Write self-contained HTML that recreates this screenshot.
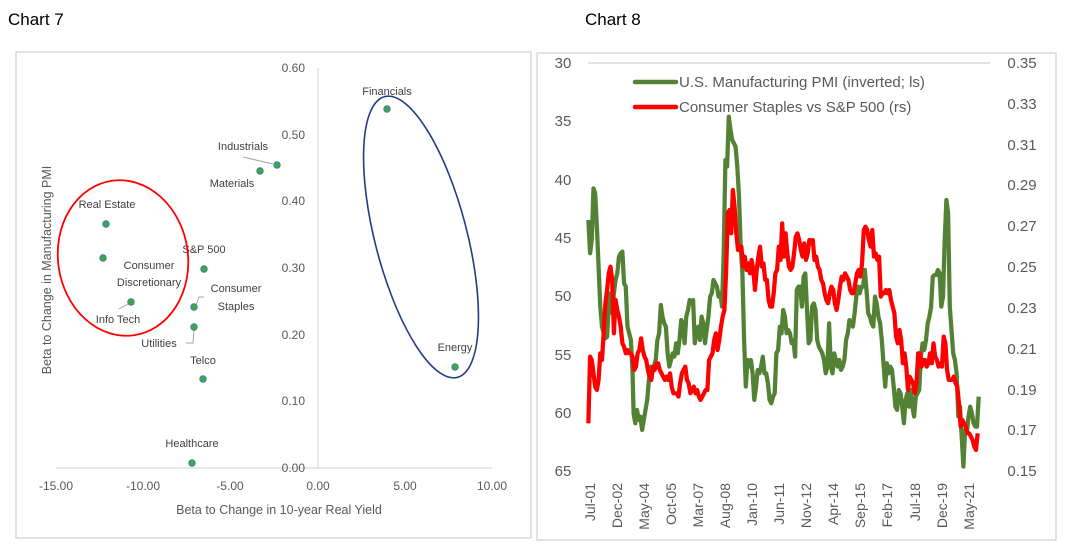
<!DOCTYPE html>
<html><head><meta charset="utf-8"><style>
html,body{margin:0;padding:0;background:#fff;}
svg{display:block;font-family:"Liberation Sans",sans-serif;}
</style></head><body>
<svg width="1070" height="549" viewBox="0 0 1070 549" xmlns="http://www.w3.org/2000/svg">
<rect width="1070" height="549" fill="#fff"/>
<text x="8" y="25" font-size="17" fill="#000">Chart 7</text>
<text x="585" y="25" font-size="17" fill="#000">Chart 8</text>

<!-- Chart 7 -->
<rect x="16" y="52" width="515" height="486" fill="#fff" stroke="#d9d9d9" stroke-width="1.5"/>
<line x1="318" y1="68" x2="318" y2="468" stroke="#d9d9d9" stroke-width="1.2"/>
<line x1="56" y1="468" x2="492" y2="468" stroke="#d9d9d9" stroke-width="1.2"/>
<g font-size="12" fill="#595959" text-anchor="end">
<text x="305" y="72">0.60</text><text x="305" y="139">0.50</text><text x="305" y="205">0.40</text>
<text x="305" y="272">0.30</text><text x="305" y="339">0.20</text><text x="305" y="405">0.10</text><text x="305" y="472">0.00</text>
</g>
<g font-size="12" fill="#595959" text-anchor="middle">
<text x="56" y="490">-15.00</text><text x="143" y="490">-10.00</text><text x="230" y="490">-5.00</text>
<text x="318" y="490">0.00</text><text x="405" y="490">5.00</text><text x="492" y="490">10.00</text>
<text x="279" y="514" font-size="12.5">Beta to Change in 10-year Real Yield</text>
<text transform="translate(51,270) rotate(-90)" font-size="12.5">Beta to Change in Manufacturing PMI</text>
</g>
<g stroke="#a6a6a6" stroke-width="1" fill="none">
<polyline points="243,157 273,164"/><polyline points="119,309 128,304"/>
<polyline points="196,305 199,297 204,297"/><polyline points="186,343 193,343 194,330"/>
</g>
<g fill="#3cab3c" stroke="#4472c4" stroke-width="0.8">
<circle cx="387" cy="109" r="3.3"/><circle cx="277" cy="165" r="3.3"/><circle cx="260" cy="171" r="3.3"/>
<circle cx="106" cy="224" r="3.3"/><circle cx="103" cy="258" r="3.3"/><circle cx="204" cy="269" r="3.3"/>
<circle cx="131" cy="302" r="3.3"/><circle cx="194" cy="307" r="3.3"/><circle cx="194" cy="327" r="3.3"/>
<circle cx="203" cy="379" r="3.3"/><circle cx="192" cy="463" r="3.3"/><circle cx="455" cy="367" r="3.3"/>
</g>
<g font-size="11" fill="#404040" text-anchor="middle">
<text x="387" y="95">Financials</text><text x="243" y="150">Industrials</text><text x="232" y="187">Materials</text>
<text x="107" y="208">Real Estate</text><text x="149" y="269">Consumer</text><text x="149" y="286">Discretionary</text>
<text x="204" y="253">S&amp;P 500</text><text x="118" y="323">Info Tech</text><text x="236" y="292">Consumer</text>
<text x="236" y="310">Staples</text><text x="159" y="347">Utilities</text><text x="203" y="364">Telco</text>
<text x="192" y="447">Healthcare</text><text x="455" y="351">Energy</text>
</g>
<ellipse cx="123" cy="258" rx="65" ry="78" fill="none" stroke="#ff0000" stroke-width="1.8" transform="rotate(-8 123 258)"/>
<ellipse cx="421" cy="237" rx="46" ry="145" fill="none" stroke="#1f3c88" stroke-width="1.6" transform="rotate(-14.5 421 237)"/>

<!-- Chart 8 -->
<rect x="537" y="53" width="519" height="487" fill="#fff" stroke="#d9d9d9" stroke-width="1.5"/>
<line x1="588" y1="63" x2="990" y2="63" stroke="#d9d9d9" stroke-width="1.5"/>
<g font-size="15" fill="#595959" text-anchor="middle">
<text x="563" y="68">30</text><text x="563" y="126">35</text><text x="563" y="185">40</text><text x="563" y="243">45</text>
<text x="563" y="301">50</text><text x="563" y="360">55</text><text x="563" y="418">60</text><text x="563" y="476">65</text>
<text x="1022" y="68">0.35</text><text x="1022" y="109">0.33</text><text x="1022" y="150">0.31</text><text x="1022" y="190">0.29</text>
<text x="1022" y="231">0.27</text><text x="1022" y="272">0.25</text><text x="1022" y="313">0.23</text><text x="1022" y="354">0.21</text>
<text x="1022" y="395">0.19</text><text x="1022" y="435">0.17</text><text x="1022" y="476">0.15</text>
</g>
<g font-size="14" fill="#595959" text-anchor="end">
<text transform="translate(595,483) rotate(-90)">Jul-01</text>
<text transform="translate(622,483) rotate(-90)">Dec-02</text>
<text transform="translate(649,483) rotate(-90)">May-04</text>
<text transform="translate(676,483) rotate(-90)">Oct-05</text>
<text transform="translate(703,483) rotate(-90)">Mar-07</text>
<text transform="translate(730,483) rotate(-90)">Aug-08</text>
<text transform="translate(757,483) rotate(-90)">Jan-10</text>
<text transform="translate(784,483) rotate(-90)">Jun-11</text>
<text transform="translate(811,483) rotate(-90)">Nov-12</text>
<text transform="translate(838,483) rotate(-90)">Apr-14</text>
<text transform="translate(865,483) rotate(-90)">Sep-15</text>
<text transform="translate(892,483) rotate(-90)">Feb-17</text>
<text transform="translate(920,483) rotate(-90)">Jul-18</text>
<text transform="translate(947,483) rotate(-90)">Dec-19</text>
<text transform="translate(974,483) rotate(-90)">May-21</text>
</g>
<g transform="translate(535,40) scale(0.34,0.3333)" fill="none" stroke-linejoin="round" stroke-width="12.5">
<polyline stroke="#548235" points="157,540 162,640 167,600 172,445 177,460 182,560 187,680 192,800 197,860 202,880 207,895 212,890 217,800 222,760 227,820 232,760 237,720 242,700 247,650 252,640 257,635 262,730 267,740 272,860 277,880 282,900 287,1000 290,1120 295,1150 300,1110 305,1140 310,1130 315,1170 320,1140 325,1110 330,1080 335,1020 340,980 345,1000 350,980 355,960 360,900 365,880 370,795 375,830 380,850 385,860 390,940 395,980 400,960 405,940 410,950 415,910 420,940 425,900 430,840 435,850 440,910 445,830 450,810 455,780 460,790 465,780 470,910 475,870 480,860 485,900 490,830 495,850 500,910 505,870 510,830 515,770 520,760 525,720 530,730 535,740 540,770 545,760 550,800 555,640 560,360 565,380 570,230 575,270 580,300 585,310 590,320 595,380 600,470 605,620 610,700 615,900 620,1040 625,960 630,980 635,960 640,1000 645,1080 650,1040 655,990 660,1000 665,980 670,950 675,1000 680,1000 685,1030 690,1080 695,1090 700,1070 705,1060 710,940 715,930 720,860 725,880 730,810 735,830 740,880 745,870 750,880 755,910 760,900 765,950 770,750 775,740 780,740 785,800 790,710 795,700 800,810 805,910 810,900 815,800 820,790 825,810 830,900 835,920 840,930 845,940 850,960 855,1000 860,980 865,850 870,980 875,1000 880,940 885,960 890,980 895,960 900,990 905,980 910,960 915,900 920,880 925,840 930,850 935,860 940,820 945,770 950,740 955,760 960,740 965,740 970,690 975,750 980,820 985,830 990,850 995,860 1000,770 1005,790 1010,830 1015,850 1020,900 1025,970 1030,1040 1035,970 1040,1000 1045,980 1050,990 1055,1040 1060,1100 1065,1110 1070,1050 1075,1060 1080,1100 1085,1150 1090,1080 1095,1060 1100,1100 1105,1050 1110,1100 1115,1130 1120,1070 1125,1060 1130,1050 1135,950 1140,910 1145,930 1150,900 1155,850 1160,830 1165,800 1170,710 1175,705 1180,705 1185,690 1190,700 1195,800 1200,770 1205,600 1210,480 1215,520 1220,800 1225,870 1230,940 1235,960 1240,1000 1245,1130 1250,1100 1255,1190 1260,1280 1265,1170 1270,1180 1275,1130 1280,1100 1285,1120 1290,1150 1295,1160 1300,1160 1305,1070"/>
<polyline stroke="#ff0000" points="157,1150 162,950 167,960 172,1000 177,1040 182,1050 187,1020 192,940 197,960 202,880 207,790 212,750 217,700 222,680 227,720 232,880 237,780 242,810 247,830 252,860 257,910 262,920 267,940 272,930 277,940 282,940 287,950 292,990 297,980 302,940 307,930 312,895 317,930 322,950 327,960 332,990 337,1010 342,1020 347,980 352,990 357,970 362,970 367,990 372,1000 377,1010 382,1020 387,1010 392,1020 397,1000 402,1040 407,1060 412,1060 417,1060 422,1070 427,1030 432,1000 437,990 442,980 447,1020 452,1030 457,1060 462,1050 467,1040 472,1060 477,1050 482,1070 487,1080 492,1070 497,1060 502,1050 507,1050 512,960 517,950 522,940 527,900 532,880 537,930 542,900 547,860 552,830 557,810 562,700 567,520 572,510 577,580 582,450 587,500 592,580 597,630 602,630 607,620 612,680 617,650 622,690 627,670 632,700 637,660 642,690 647,750 652,690 657,650 662,620 667,680 672,670 677,720 682,720 687,780 692,800 697,800 702,760 707,700 712,690 717,620 722,660 727,550 732,650 737,580 742,640 747,680 752,690 757,680 762,640 767,590 772,580 777,600 782,630 787,650 792,610 797,660 802,640 807,600 812,610 817,600 822,660 827,650 832,680 837,690 842,720 847,730 852,760 857,780 862,790 867,760 872,740 877,750 882,790 887,810 892,780 897,740 902,710 907,720 912,700 917,710 922,720 927,750 932,760 937,760 942,730 947,700 952,690 957,710 962,670 967,570 972,560 977,570 982,600 987,620 992,570 997,650 1002,640 1007,660 1012,650 1017,770 1022,760 1027,760 1032,750 1037,760 1042,750 1047,780 1052,800 1057,820 1062,890 1067,910 1072,870 1077,900 1082,970 1087,940 1092,980 1097,1050 1102,1010 1107,1020 1112,1030 1117,1060 1122,1030 1127,940 1132,940 1137,980 1142,960 1147,960 1152,980 1157,970 1162,940 1167,970 1172,910 1177,950 1182,960 1187,980 1192,970 1197,980 1202,890 1207,910 1212,990 1217,1020 1222,1020 1227,1020 1232,1010 1237,1030 1242,1040 1247,1090 1252,1160 1257,1140 1262,1150 1267,1160 1272,1180 1277,1180 1282,1190 1287,1200 1292,1220 1297,1230 1302,1180"/>
</g>
<line x1="635" y1="82" x2="676" y2="82" stroke="#548235" stroke-width="4.5" stroke-linecap="round"/>
<line x1="635" y1="107" x2="676" y2="107" stroke="#ff0000" stroke-width="4.5" stroke-linecap="round"/>
<g font-size="15" fill="#595959">
<text x="679" y="87">U.S. Manufacturing PMI (inverted; ls)</text>
<text x="679" y="112">Consumer Staples vs S&amp;P 500 (rs)</text>
</g>
</svg>
</body></html>
